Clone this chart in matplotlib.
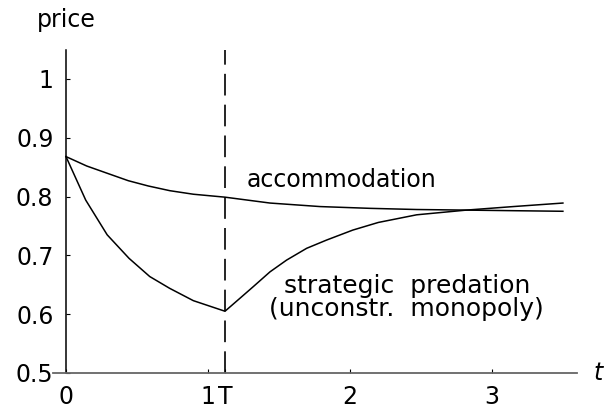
import matplotlib
matplotlib.use("Agg")
from matplotlib import pyplot as plt

T = 1.12

# price paths
t_acc = [0, 0.146, 0.298, 0.439, 0.58, 0.732, 0.897, 1.12, 1.437, 1.79, 2.14, 2.47, 2.82, 3.15, 3.5]
p_acc = [0.868, 0.852, 0.839, 0.827, 0.818, 0.810, 0.804, 0.799, 0.789, 0.783, 0.780, 0.778, 0.777, 0.776, 0.775]

t_pred = [0, 0.139, 0.29, 0.444, 0.59, 0.73, 0.897, 1.12, 1.225, 1.32, 1.437, 1.554, 1.695, 1.835, 2.02, 2.2, 2.47, 2.82, 3.15, 3.5]
p_pred = [0.868, 0.794, 0.735, 0.695, 0.664, 0.644, 0.623, 0.605, 0.627, 0.647, 0.672, 0.692, 0.712, 0.726, 0.743, 0.756, 0.769, 0.777, 0.783, 0.789]

xticks = [0, 1, T, 2, 3]
xlabels = ["0", "1", "T", "2", "3"]
yticks = [0.5, 0.6, 0.7, 0.8, 0.9, 1.0]
ylabels = ["0.5", "0.6", "0.7", "0.8", "0.9", "1"]

fs = 17

fig = plt.figure(figsize=(6.06, 4.18), dpi=100)
ax = fig.add_axes([0.0878, 0.1077, 0.8645, 0.7737])

ax.plot(t_acc, p_acc, color="black", lw=1.1)
ax.plot(t_pred, p_pred, color="black", lw=1.1)
ax.plot([T, T], [0.5, 1.05], color="black", lw=1.2, linestyle=(0, (13, 5.5)))

ax.set_xlim(-0.09, 3.6)
ax.set_ylim(0.5, 1.05)

for s in ["top", "right"]:
    ax.spines[s].set_visible(False)
ax.spines["left"].set_position(("data", 0))
ax.spines["left"].set_linewidth(1.1)
ax.spines["bottom"].set_color("#666666")
ax.spines["bottom"].set_linewidth(1.3)

ax.set_xticks(xticks)
ax.set_xticklabels(xlabels)
ax.set_yticks(yticks)
ax.set_yticklabels(ylabels)
ax.tick_params(direction="in", length=3, labelsize=fs, pad=9)

ax.text(1.275, 0.828, "accommodation", fontsize=fs, ha="left", va="center")
ax.text(2.4, 0.628, "strategic  predation\n(unconstr.  monopoly)",
        fontsize=18, ha="center", va="center", linespacing=0.95)
ax.text(0, 1.1, "price", fontsize=fs, ha="center", va="center", clip_on=False)
ax.text(3.75, 0.5, "t", fontsize=fs, style="italic", ha="center", va="center", clip_on=False)

plt.savefig("out.png", dpi=100)
